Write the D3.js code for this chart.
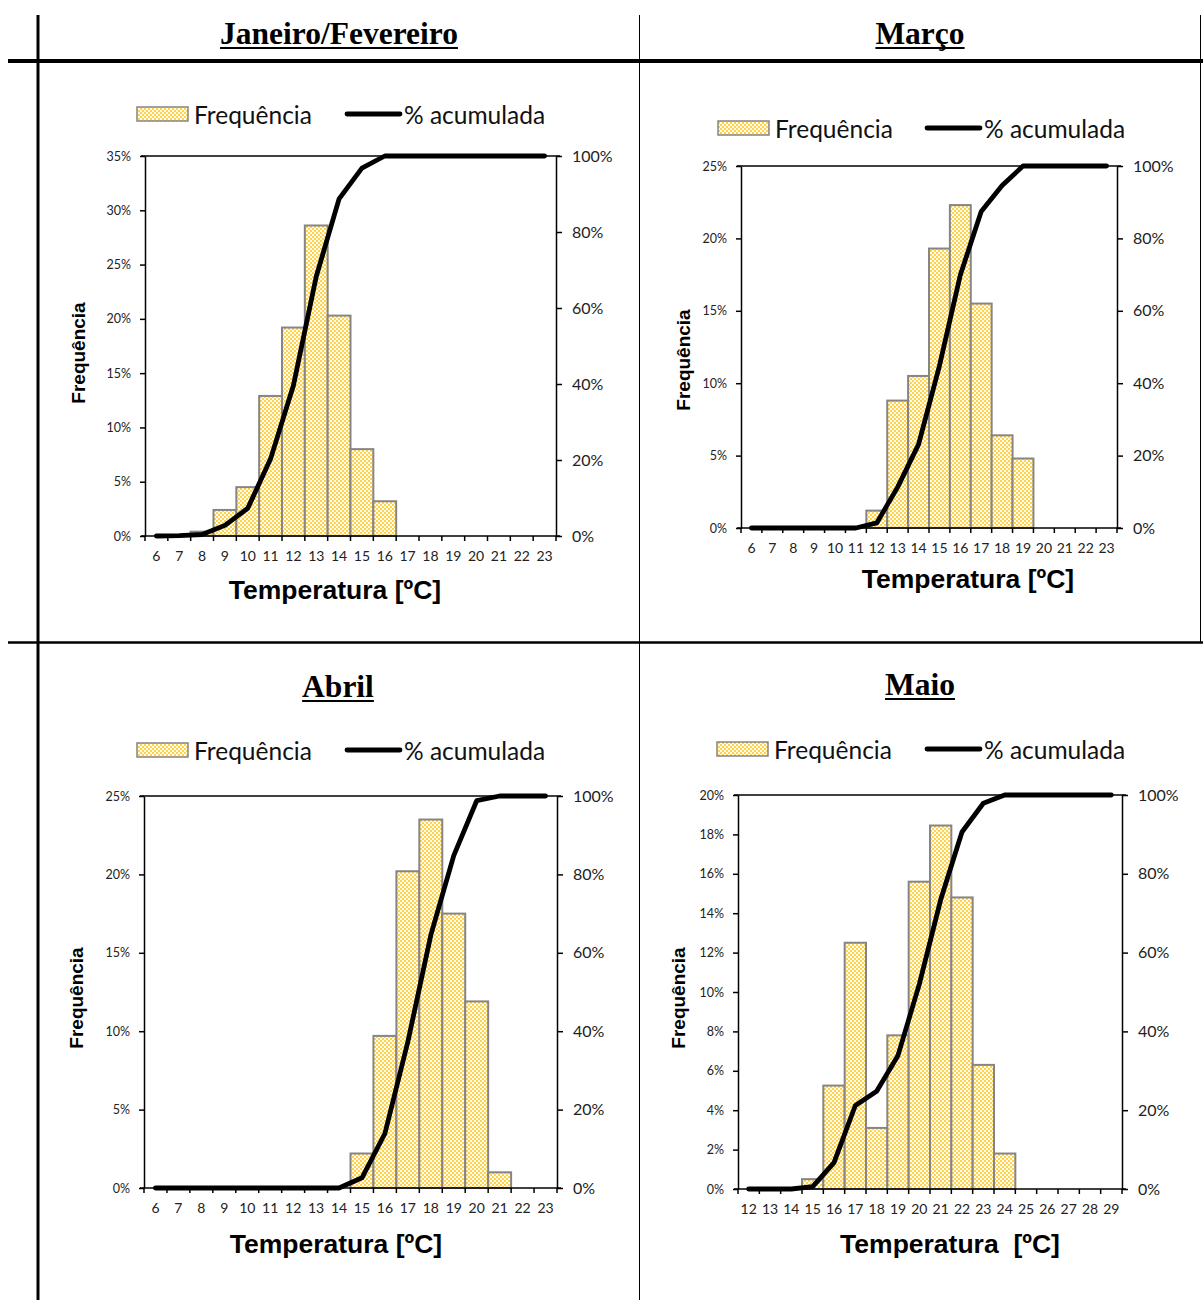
<!DOCTYPE html>
<html>
<head>
<meta charset="utf-8">
<script src="https://cdn.jsdelivr.net/npm/d3@7"></script>
<style>
  body { margin: 0; background: #fff; }
  svg { display: block; }
</style>
</head>
<body>
<script>
// ---- Temperature classes (ºC) ----
const tempLabels6to23 = ["6","7","8","9","10","11","12","13","14","15","16","17","18","19","20","21","22","23"];
const tempLabels12to29 = ["12","13","14","15","16","17","18","19","20","21","22","23","24","25","26","27","28","29"];

// ---- Janeiro/Fevereiro ----
const janFevFrequency  = [0, 0, 0.4, 2.4, 4.5, 12.9, 19.2, 28.6, 20.3, 8.0, 3.2, 0, 0, 0, 0, 0, 0, 0];
const janFevCumulative = [0, 0.1, 0.4, 2.8, 7.3, 20.3, 39.6, 68.3, 88.7, 96.8, 100, 100, 100, 100, 100, 100, 100, 100];

// ---- Março ----
const marcoFrequency  = [0, 0, 0, 0, 0, 0, 1.2, 8.8, 10.5, 19.3, 22.3, 15.5, 6.4, 4.8, 0, 0, 0, 0];
const marcoCumulative = [0, 0, 0, 0, 0, 0, 1.4, 11.3, 23.1, 44.8, 69.9, 87.4, 94.6, 100, 100, 100, 100, 100];

// ---- Abril ----
const abrilFrequency  = [0, 0, 0, 0, 0, 0, 0, 0, 0, 2.2, 9.7, 20.2, 23.5, 17.5, 11.9, 1.0, 0, 0];
const abrilCumulative = [0, 0, 0, 0, 0, 0, 0, 0, 0, 2.6, 13.9, 37.3, 64.5, 84.8, 98.8, 100, 100, 100];

// ---- Maio ----
const maioFrequency  = [0, 0, 0, 0.5, 5.25, 12.5, 3.1, 7.8, 15.6, 18.45, 14.8, 6.3, 1.8, 0, 0, 0, 0, 0];
const maioCumulative = [0, 0, 0, 0.6, 6.7, 21.2, 24.8, 33.9, 52.0, 73.4, 90.6, 97.9, 100, 100, 100, 100, 100, 100];

// ---- Axis ticks ----
const freqTicks35 = [0, 5, 10, 15, 20, 25, 30, 35];
const freqTicks25 = [0, 5, 10, 15, 20, 25];
const freqTicks20 = [0, 2, 4, 6, 8, 10, 12, 14, 16, 18, 20];
const cumTicks = [0, 20, 40, 60, 80, 100];

// ---- Labels ----
const panelTitles = ["Janeiro/Fevereiro", "Março", "Abril", "Maio"];
const legendFreqLabel = "Frequência";
const legendCumLabel = "% acumulada";
const yTitle = "Frequência";
const xTitles = ["Temperatura [ºC]", "Temperatura [ºC]", "Temperatura [ºC]", "Temperatura  [ºC]"];

// ---- Panel layout ----
const panels = [
  { title: panelTitles[0], cats: tempLabels6to23, freq: janFevFrequency, cum: janFevCumulative,
    fTicks: freqTicks35, x0: 145, x1: 556, y0: 156, y1: 536,
    titleX: 339, titleY: 44, legY: 114, swX: 137, lnX: 347,
    yTitleX: 78, yTitleY: 353, xTitleX: 335, xTitleY: 599, xTitle: xTitles[0] },
  { title: panelTitles[1], cats: tempLabels6to23, freq: marcoFrequency, cum: marcoCumulative,
    fTicks: freqTicks25, x0: 741, x1: 1117, y0: 166, y1: 528,
    titleX: 920, titleY: 44, legY: 128, swX: 718, lnX: 927,
    yTitleX: 683, yTitleY: 360, xTitleX: 968, xTitleY: 588, xTitle: xTitles[1] },
  { title: panelTitles[2], cats: tempLabels6to23, freq: abrilFrequency, cum: abrilCumulative,
    fTicks: freqTicks25, x0: 144, x1: 557, y0: 796, y1: 1188,
    titleX: 338, titleY: 697, legY: 750, swX: 137, lnX: 347,
    yTitleX: 76, yTitleY: 998, xTitleX: 336, xTitleY: 1253, xTitle: xTitles[2] },
  { title: panelTitles[3], cats: tempLabels12to29, freq: maioFrequency, cum: maioCumulative,
    fTicks: freqTicks20, x0: 738, x1: 1122, y0: 795, y1: 1189,
    titleX: 920, titleY: 695, legY: 749, swX: 717, lnX: 927,
    yTitleX: 678, yTitleY: 998, xTitleX: 950, xTitleY: 1253, xTitle: xTitles[3] }
];

const W = 1203, H = 1300;
const tickFont = "Lato, 'Open Sans', sans-serif";
const svg = d3.select("body").append("svg").attr("width", W).attr("height", H);

// Dotted fill used for the frequency bars
const defs = svg.append("defs");
const pat = defs.append("pattern").attr("id", "dots")
  .attr("patternUnits", "userSpaceOnUse").attr("width", 4).attr("height", 4);
pat.append("rect").attr("width", 4).attr("height", 4).attr("fill", "#fffcef");
pat.append("circle").attr("cx", 1).attr("cy", 1).attr("r", 0.9).attr("fill", "#ffc000");
pat.append("circle").attr("cx", 3).attr("cy", 3).attr("r", 0.9).attr("fill", "#ffc000");

// Table frame
const frame = svg.append("g").attr("stroke", "#000");
frame.append("line").attr("x1", 38).attr("x2", 38).attr("y1", 15).attr("y2", H).attr("stroke-width", 3);
frame.append("line").attr("x1", 639.5).attr("x2", 639.5).attr("y1", 15).attr("y2", H).attr("stroke-width", 1);
frame.append("line").attr("x1", 1200.5).attr("x2", 1200.5).attr("y1", 15).attr("y2", 643).attr("stroke-width", 1);
frame.append("line").attr("x1", 8).attr("x2", W).attr("y1", 61).attr("y2", 61).attr("stroke-width", 4);
frame.append("line").attr("x1", 8).attr("x2", W).attr("y1", 642.5).attr("y2", 642.5).attr("stroke-width", 2.5);

panels.forEach(drawPanel);

function drawPanel(p) {
  const g = svg.append("g");

  // Title (underlined)
  const t = g.append("text")
    .attr("x", p.titleX).attr("y", p.titleY)
    .attr("text-anchor", "middle")
    .attr("font-family", "'Liberation Serif', 'Times New Roman', serif")
    .attr("font-weight", "bold").attr("font-size", 31.5)
    .text(p.title);
  const tw = t.node().getComputedTextLength();
  g.append("line")
    .attr("x1", p.titleX - tw / 2).attr("x2", p.titleX + tw / 2)
    .attr("y1", p.titleY + 4).attr("y2", p.titleY + 4)
    .attr("stroke", "#000").attr("stroke-width", 2);

  // Scales
  const x = d3.scaleBand().domain(p.cats).range([p.x0, p.x1]).padding(0);
  const yF = d3.scaleLinear().domain([0, d3.max(p.fTicks)]).range([p.y1, p.y0]);
  const yC = d3.scaleLinear().domain([0, 100]).range([p.y1, p.y0]);
  const bw = x.bandwidth();

  // Bars
  g.append("g").selectAll("rect")
    .data(p.cats.map((c, i) => ({ c, v: p.freq[i] })).filter(d => d.v > 0))
    .join("rect")
    .attr("x", d => x(d.c)).attr("width", bw)
    .attr("y", d => yF(d.v)).attr("height", d => yF(0) - yF(d.v))
    .attr("fill", "url(#dots)")
    .attr("stroke", "#858585").attr("stroke-width", 2);

  // Cumulative line
  const line = d3.line().x((d, i) => x(p.cats[i]) + bw / 2).y(d => yC(d));
  g.append("path").datum(p.cum)
    .attr("d", line).attr("fill", "none")
    .attr("stroke", "#000").attr("stroke-width", 4.8)
    .attr("stroke-linejoin", "round").attr("stroke-linecap", "round");

  // Left axis
  const axL = g.append("g").attr("transform", `translate(${p.x0},0)`)
    .call(d3.axisLeft(yF).tickValues(p.fTicks).tickFormat(d => d + "%").tickSize(5).tickSizeOuter(0).tickPadding(9));
  // Right axis
  const axR = g.append("g").attr("transform", `translate(${p.x1},0)`)
    .call(d3.axisRight(yC).tickValues(cumTicks).tickFormat(d => d + "%").tickSize(6).tickSizeOuter(0).tickPadding(10));
  // Bottom axis labels
  const axB = g.append("g").attr("transform", `translate(0,${p.y1})`)
    .call(d3.axisBottom(x).tickSize(0).tickPadding(15));
  axB.select(".domain").remove();

  [axL, axR].forEach(a => {
    a.select(".domain").attr("stroke", "#000").attr("stroke-width", 1.5);
    a.selectAll(".tick line").attr("stroke", "#000").attr("stroke-width", 1.5);
  });
  axL.selectAll("text").attr("font-family", tickFont).attr("font-size", 12.5).attr("fill", "#222");
  axR.selectAll("text").attr("font-family", tickFont).attr("font-size", 16).attr("fill", "#222");
  axB.selectAll("text").attr("font-family", tickFont).attr("font-size", 14).attr("fill", "#222");

  // Bottom axis line, top border and tick marks between classes
  g.append("line").attr("x1", p.x0 - 4).attr("x2", p.x1 + 4).attr("y1", p.y1).attr("y2", p.y1)
    .attr("stroke", "#000").attr("stroke-width", 1.5);
  g.append("line").attr("x1", p.x0 - 4).attr("x2", p.x1 + 4).attr("y1", p.y0).attr("y2", p.y0)
    .attr("stroke", "#000").attr("stroke-width", 1.5);
  g.append("g").selectAll("line")
    .data(d3.range(p.cats.length + 1))
    .join("line")
    .attr("x1", i => p.x0 + i * bw).attr("x2", i => p.x0 + i * bw)
    .attr("y1", p.y1).attr("y2", p.y1 + 5)
    .attr("stroke", "#000").attr("stroke-width", 1.5);

  // Axis titles
  g.append("text")
    .attr("transform", `translate(${p.yTitleX},${p.yTitleY}) rotate(-90)`)
    .attr("text-anchor", "middle").attr("dominant-baseline", "central")
    .attr("font-family", "'Liberation Sans', Arial, sans-serif")
    .attr("font-weight", "bold").attr("font-size", 19)
    .text(yTitle);
  g.append("text")
    .attr("x", p.xTitleX).attr("y", p.xTitleY)
    .attr("text-anchor", "middle")
    .attr("font-family", "'Liberation Sans', Arial, sans-serif")
    .attr("font-weight", "bold").attr("font-size", 26.5)
    .style("white-space", "pre")
    .text(p.xTitle);

  // Legend
  const lg = g.append("g").attr("font-family", tickFont).attr("font-size", 24.5).attr("fill", "#111");
  lg.append("rect").attr("x", p.swX).attr("y", p.legY - 7).attr("width", 51).attr("height", 14)
    .attr("fill", "url(#dots)").attr("stroke", "#858585").attr("stroke-width", 1.5);
  lg.append("text").attr("x", p.swX + 57).attr("y", p.legY).attr("dominant-baseline", "central")
    .text(legendFreqLabel);
  lg.append("line").attr("x1", p.lnX).attr("x2", p.lnX + 53).attr("y1", p.legY).attr("y2", p.legY)
    .attr("stroke", "#000").attr("stroke-width", 4.8).attr("stroke-linecap", "round");
  lg.append("text").attr("x", p.lnX + 57).attr("y", p.legY).attr("dominant-baseline", "central")
    .text(legendCumLabel);
}
</script>
</body>
</html>
